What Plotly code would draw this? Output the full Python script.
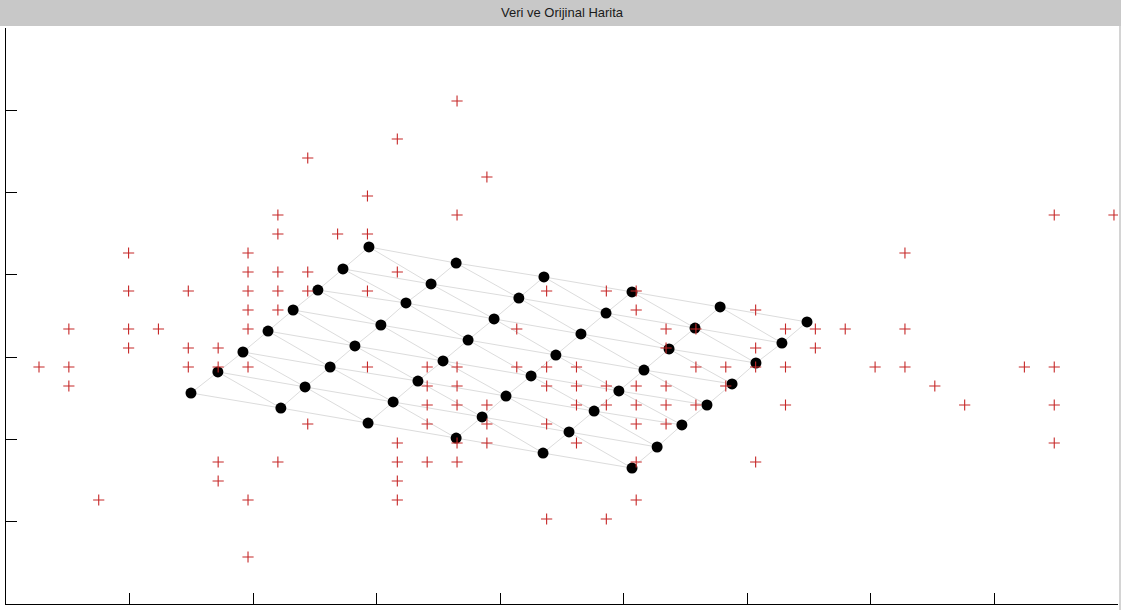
import plotly.graph_objects as go

# ---- data samples (integer lattice coordinates) ----
data_x = [
    14,
    12,
    9,
    15,
    11,
    8, 14, 34, 36,
    8, 10, 11,
    3, 7, 29,
    7, 8, 9, 12,
    3, 5, 7, 8, 9, 11, 17, 19, 20,
    7, 8, 20, 24,
    1, 3, 4, 7, 16, 21, 22, 25, 26, 27, 29,
    3, 5, 6, 21, 24, 26,
    0, 1, 5, 6, 7, 11, 13, 14, 16, 17, 18, 22, 23, 24, 25, 28, 29, 33, 34,
    1, 13, 14, 17, 18, 19, 20, 21, 23, 30,
    13, 14, 15, 18, 19, 20, 21, 22, 25, 31, 34,
    9, 13, 15, 17, 20, 21,
    12, 14, 15, 18, 34,
    6, 8, 12, 13, 14, 20, 24,
    6, 12,
    2, 7, 12, 20,
    17, 19,
    7,
]
data_y = (
    [24]
    + [22]
    + [21]
    + [20]
    + [19]
    + [18] * 4
    + [17] * 3
    + [16] * 3
    + [15] * 4
    + [14] * 9
    + [13] * 4
    + [12] * 11
    + [11] * 6
    + [10] * 19
    + [9] * 10
    + [8] * 11
    + [7] * 6
    + [6] * 5
    + [5] * 7
    + [4] * 2
    + [3] * 4
    + [2] * 2
    + [0]
)

# ---- initial map: 6 x 8 neuron weights, column by column (top to bottom) ----
MAP_COLS = 6
MAP_ROWS = 8
node_x = [
    11.05, 10.18, 9.34, 8.51, 7.67, 6.83, 5.99, 5.09,
    13.97, 13.13, 12.29, 11.45, 10.58, 9.75, 8.91, 8.10,
    16.91, 16.07, 15.24, 14.37, 13.53, 12.69, 11.86, 11.02,
    19.86, 18.99, 18.15, 17.31, 16.48, 15.64, 14.84, 13.97,
    22.81, 21.97, 21.10, 20.26, 19.42, 18.59, 17.75, 16.88,
    25.72, 24.88, 24.01, 23.21, 22.37, 21.53, 20.70, 19.86,
]
node_y = [
    16.32, 15.16, 14.05, 13.00, 11.89, 10.79, 9.74, 8.63,
    15.47, 14.37, 13.37, 12.21, 11.11, 10.00, 8.95, 7.84,
    14.74, 13.63, 12.53, 11.42, 10.32, 9.26, 8.16, 7.05,
    13.95, 12.84, 11.74, 10.63, 9.53, 8.47, 7.37, 6.26,
    13.16, 12.05, 10.95, 9.84, 8.74, 7.68, 6.58, 5.47,
    12.37, 11.26, 10.21, 9.11, 8.00, 6.95, 5.79, 4.68,
]

# axis extents and tick spacing in lattice units
X_RANGE = [-1.105, 36.135]
Y_RANGE = [-2.474, 27.842]
X_TICKS = 9
Y_TICKS = 7


def idx(c, r):
    return c * MAP_ROWS + r


# neighbour links of the map (column, row and one diagonal)
edges = []
for c in range(MAP_COLS):
    for r in range(MAP_ROWS):
        if r + 1 < MAP_ROWS:
            edges.append((idx(c, r), idx(c, r + 1)))
        if c + 1 < MAP_COLS:
            edges.append((idx(c, r), idx(c + 1, r)))
            if r + 1 < MAP_ROWS:
                edges.append((idx(c, r), idx(c + 1, r + 1)))

link_x, link_y = [], []
for a, b in edges:
    link_x += [node_x[a], node_x[b], None]
    link_y += [node_y[a], node_y[b], None]

fig = go.Figure()
fig.add_trace(go.Scatter(
    x=link_x, y=link_y, mode="lines",
    line=dict(color="#dcdcdc", width=1),
    hoverinfo="skip", showlegend=False,
))
fig.add_trace(go.Scatter(
    x=node_x, y=node_y, mode="markers",
    marker=dict(color="black", size=11, line=dict(width=0)),
    showlegend=False,
))
fig.add_trace(go.Scatter(
    x=data_x, y=data_y, mode="markers",
    marker=dict(symbol="cross-thin", size=8,
                line=dict(color="#c62828", width=1.1)),
    showlegend=False,
))


def ticks(rng, n):
    step = (rng[1] - rng[0]) / n
    return [rng[0] + k * step for k in range(n + 1)]


axis_style = dict(
    showgrid=False, zeroline=False, showticklabels=False,
    showline=True, linecolor="black", linewidth=1,
    ticks="inside", ticklen=11, tickwidth=1, tickcolor="black",
    tickmode="array", mirror=False,
)

PLOT_H = 610 - 28 - 6
PLOT_W = 1121 - 6 - 3

fig.update_layout(
    width=1121, height=610, autosize=False,
    margin=dict(l=6, r=3, t=28, b=6, pad=0),
    paper_bgcolor="white", plot_bgcolor="white",
    xaxis=dict(range=X_RANGE, tickvals=ticks(X_RANGE, X_TICKS), **axis_style),
    yaxis=dict(range=Y_RANGE, tickvals=ticks(Y_RANGE, Y_TICKS), **axis_style),
    shapes=[
        # title bar
        dict(type="rect", xref="paper", yref="paper", layer="below",
             x0=-6 / PLOT_W, x1=1 + 3 / PLOT_W,
             y0=1 + 2 / PLOT_H, y1=1 + 28 / PLOT_H,
             fillcolor="#c8c8c8", line=dict(width=0)),
        # window edge on the right
        dict(type="rect", xref="paper", yref="paper", layer="below",
             x0=1 + 1 / PLOT_W, x1=1 + 3 / PLOT_W,
             y0=-6 / PLOT_H, y1=1 + 2 / PLOT_H,
             fillcolor="#d4d4d4", line=dict(width=0)),
    ],
    annotations=[
        dict(text="Veri ve Orijinal Harita", xref="paper", yref="paper",
             x=0.5, y=1 + 15 / PLOT_H, xanchor="center", yanchor="middle",
             showarrow=False,
             font=dict(family="Liberation Sans", size=13, color="#1a1a1a")),
    ],
)

fig.write_html("out.html", config={"displayModeBar": False})
